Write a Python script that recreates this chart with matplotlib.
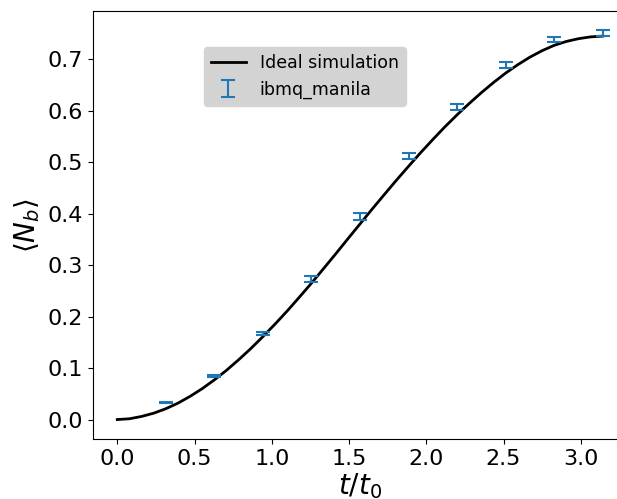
import numpy as np
import matplotlib
matplotlib.use("Agg")
import matplotlib.pyplot as plt

# Ideal simulation curve, t/t0 sampled in steps of pi/40
t_ideal = [0.0, 0.0785, 0.157, 0.236, 0.314, 0.393, 0.471, 0.550, 0.628, 0.707,
           0.785, 0.864, 0.942, 1.021, 1.100, 1.178, 1.257, 1.335, 1.414, 1.492,
           1.571, 1.649, 1.728, 1.806, 1.885, 1.963, 2.042, 2.120, 2.199, 2.278,
           2.356, 2.435, 2.513, 2.592, 2.670, 2.749, 2.827, 2.906, 2.985, 3.063, 3.142]
n_ideal = [0.0, 0.0015, 0.006, 0.0124, 0.021, 0.0319, 0.045, 0.0601, 0.077, 0.0957,
           0.116, 0.1378, 0.161, 0.1854, 0.211, 0.2376, 0.265, 0.2932, 0.322, 0.351,
           0.380, 0.4087, 0.437, 0.4648, 0.492, 0.5184, 0.544, 0.5686, 0.592, 0.6141,
           0.635, 0.6548, 0.673, 0.6894, 0.704, 0.7166, 0.727, 0.7346, 0.740, 0.7435, 0.745]

# Hardware runs on ibmq_manila
t_hw = [0.314, 0.628, 0.942, 1.257, 1.571, 1.885, 2.199, 2.513, 2.827, 3.142]
n_hw = [0.034, 0.084, 0.167, 0.273, 0.395, 0.512, 0.607, 0.689, 0.738, 0.751]
n_err = [0.001, 0.002, 0.003, 0.006, 0.0065, 0.005, 0.006, 0.0055, 0.005, 0.005]

fig = plt.figure(figsize=(6.17, 4.99), dpi=100)
ax = fig.add_axes([93 / 617, 60 / 499, 534 / 617, 428 / 499])

ax.plot(t_ideal, n_ideal, color="black", lw=2, label="Ideal simulation")
ax.errorbar(t_hw, n_hw, yerr=n_err, fmt="none", ecolor="tab:blue",
            capsize=5, elinewidth=1.5, capthick=1.5, label="ibmq_manila")

ax.set_xticks([0.0, 0.5, 1.0, 1.5, 2.0, 2.5, 3.0])
ax.set_yticks([0.0, 0.1, 0.2, 0.3, 0.4, 0.5, 0.6, 0.7])
ax.tick_params(labelsize=16)
ax.set_xlabel(r"$t/t_0$", fontsize=20, labelpad=2)
ax.set_ylabel(r"$\langle N_b \rangle$", fontsize=20)

leg = ax.legend(loc="upper left", bbox_to_anchor=(204 / 617, 1 - 47 / 499),
                bbox_transform=fig.transFigure, borderaxespad=0, fontsize=12.5,
                facecolor="lightgray", edgecolor="lightgray", framealpha=1)

fig.savefig("out.png", dpi=100)
